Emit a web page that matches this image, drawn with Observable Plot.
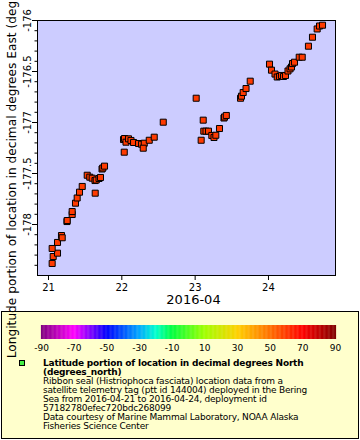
<!DOCTYPE html>
<html>
<head>
<meta charset="utf-8">
<script src="https://cdn.jsdelivr.net/npm/d3@7"></script>
<script src="https://cdn.jsdelivr.net/npm/@observablehq/plot@0.6"></script>
<style>
  html, body { margin: 0; padding: 0; background: white; }
  body { width: 360px; height: 440px; position: relative; overflow: hidden; font-family: "DejaVu Sans", sans-serif; }
  #chart { position: absolute; left: 0; top: 0; z-index: 3; }
  #legend { position: absolute; left: 1px; top: 311px; width: 358px; height: 128px; box-sizing: border-box; border: 1px solid #000; background: #ffffcc; z-index: 1; }
  #bar { position: absolute; left: 0; top: 311px; z-index: 2; }
  #marker { position: absolute; left: 19px; top: 360px; width: 6px; height: 6px; box-sizing: border-box; border: 1px solid #000; background: #44ee44; z-index: 2; }
  #text { position: absolute; left: 43px; top: 359px; font-size: 9px; line-height: 9.05px; letter-spacing: -0.2px; color: #000; white-space: pre; z-index: 2; }
  #text .b { font-weight: bold; }
</style>
</head>
<body>
<div id="chart"></div>
<div id="legend"></div>
<div id="bar"></div>
<div id="marker"></div>
<div id="text"></div>
<script>
// ---- data (day of April 2016, fractional UTC) ----
const days = [
  21.050, 21.064, 21.123, 21.050, 21.123, 21.177, 21.187, 21.252, 21.255, 21.323,
  21.323, 21.368, 21.391, 21.423, 21.460, 21.528, 21.563, 21.596, 21.637, 21.634,
  21.651, 21.689, 21.709, 21.730, 21.741, 21.764, 22.033, 22.023, 22.037, 22.057,
  22.091, 22.125, 22.160, 22.228, 22.269, 22.306, 22.292, 22.374, 22.442, 22.565,
  23.014, 23.110, 23.082, 23.118, 23.148, 23.182, 23.227, 23.257, 23.282, 23.332,
  23.393, 23.400, 23.425, 23.619, 23.632, 23.655, 23.694, 23.751, 24.014, 24.041,
  24.089, 24.119, 24.150, 24.177, 24.205, 24.232, 24.266, 24.294, 24.314, 24.328,
  24.355, 24.419, 24.460, 24.545, 24.600, 24.664, 24.696, 24.737
];
const lons = [
  -178.382, -178.314, -178.281, -178.235, -178.176, -178.108, -178.130, -177.971, -177.961, -177.902,
  -177.873, -177.791, -177.740, -177.683, -177.627, -177.517, -177.536, -177.546, -177.693, -177.569,
  -177.564, -177.549, -177.539, -177.456, -177.446, -177.428, -177.291, -177.167, -177.157, -177.193,
  -177.160, -177.176, -177.196, -177.206, -177.213, -177.203, -177.252, -177.174, -177.144, -176.997,
  -176.762, -176.977, -177.174, -177.085, -177.085, -177.085, -177.127, -177.147, -177.125, -177.059,
  -176.956, -176.946, -176.931, -176.762, -176.742, -176.706, -176.667, -176.595, -176.428, -176.487,
  -176.525, -176.554, -176.549, -176.539, -176.549, -176.539, -176.495, -176.474, -176.456, -176.422,
  -176.409, -176.360, -176.360, -176.252, -176.164, -176.083, -176.054, -176.046
];

// ---- ticks / labels ----
const xTickDays = [21, 22, 23, 24];
const yTicks = [-176, -176.5, -177, -177.5, -178];
const yMinorTicks = [-176.1, -176.2, -176.3, -176.4, -176.6, -176.7, -176.8, -176.9,
  -177.1, -177.2, -177.3, -177.4, -177.6, -177.7, -177.8, -177.9,
  -178.1, -178.2, -178.3, -178.4];
const xLabel = "2016-04";
const yLabel = "Longitude portion of location in decimal degrees East (degrees_east)";
const colorTicks = [-90, -70, -50, -30, -10, 10, 30, 50, 70, 90];
const colorStops = [-90, -70, -50, -30, -20, -10, 10, 30, 50, 70, 90];
const colorRange = ["#800080", "#ff00ff", "#0000ff", "#00a8ff", "#00ffd0", "#00ff40", "#a0ff00", "#ffd000", "#ff7000", "#ff0000", "#800000"];
const legendLines = [
  ["b", "Latitude portion of location in decimal degrees North"],
  ["b", "(degrees_north)"],
  ["n", "Ribbon seal (Histriophoca fasciata) location data from a"],
  ["n", "satellite telemetry tag (ptt id 144004) deployed in the Bering"],
  ["n", "Sea from 2016-04-21 to 2016-04-24, deployment id"],
  ["n", "57182780efec720bdc268099"],
  ["n", "Data courtesy of Marine Mammal Laboratory, NOAA Alaska"],
  ["n", "Fisheries Science Center"]
];

const toDate = d => new Date(Date.UTC(2016, 3, 1) + (d - 1) * 864e5);
const data = days.map((d, i) => ({t: toDate(d), lon: lons[i]}));

const chart = Plot.plot({
  width: 360,
  height: 310,
  marginTop: 20,
  marginRight: 25,
  marginBottom: 35,
  marginLeft: 37,
  style: {fontFamily: "DejaVu Sans", fontSize: "10px", overflow: "visible", background: "transparent", color: "black"},
  x: {type: "utc", domain: [toDate(20.85), toDate(24.914)]},
  y: {domain: [-178.5, -176]},
  marks: [
    Plot.frame({fill: "#ccccff", stroke: "black"}),
    Plot.dot(data, {x: "t", y: "lon", symbol: "square", r: 3.4, fill: "#ff3a00", stroke: "black", strokeWidth: 1}),
    Plot.axisX({ticks: xTickDays.map(toDate), tickFormat: d => String(d.getUTCDate()), tickSize: 5, tickPadding: 3, label: null}),
    Plot.axisY({ticks: yMinorTicks, tickSize: 2.5, tickFormat: () => "", label: null}),
    Plot.axisY({ticks: yTicks, tickSize: 5, tickPadding: 2, tickRotate: -90, tickFormat: d => String(d), label: null}),
    Plot.text([xLabel], {text: d => d, frameAnchor: "bottom", dy: 28, dx: 7, fontSize: 13}),
    Plot.text([yLabel], {text: d => d, frameAnchor: "left", textAnchor: "middle", rotate: -90, dx: -25, fontSize: 12.2})
  ]
});
document.getElementById("chart").appendChild(chart);

const bar = Plot.plot({
  width: 360,
  height: 48,
  marginTop: 14,
  marginBottom: 20,
  marginLeft: 41,
  marginRight: 25,
  style: {fontFamily: "DejaVu Sans", fontSize: "9px", background: "transparent", color: "black", overflow: "visible"},
  x: {domain: [-90, 90]},
  color: {type: "linear", domain: colorStops, range: colorRange},
  marks: [
    Plot.ruleX(d3.range(-90, 90.01, 0.5), {x: d => d, stroke: d => d, strokeWidth: 1.2}),
    Plot.axisX({ticks: colorTicks, tickSize: 0, tickPadding: 5, tickFormat: d => String(d), label: null})
  ]
});
document.getElementById("bar").appendChild(bar);

const textDiv = document.getElementById("text");
legendLines.forEach(([k, s]) => {
  const el = document.createElement("div");
  if (k === "b") el.className = "b";
  el.textContent = s;
  textDiv.appendChild(el);
});
</script>
</body>
</html>
